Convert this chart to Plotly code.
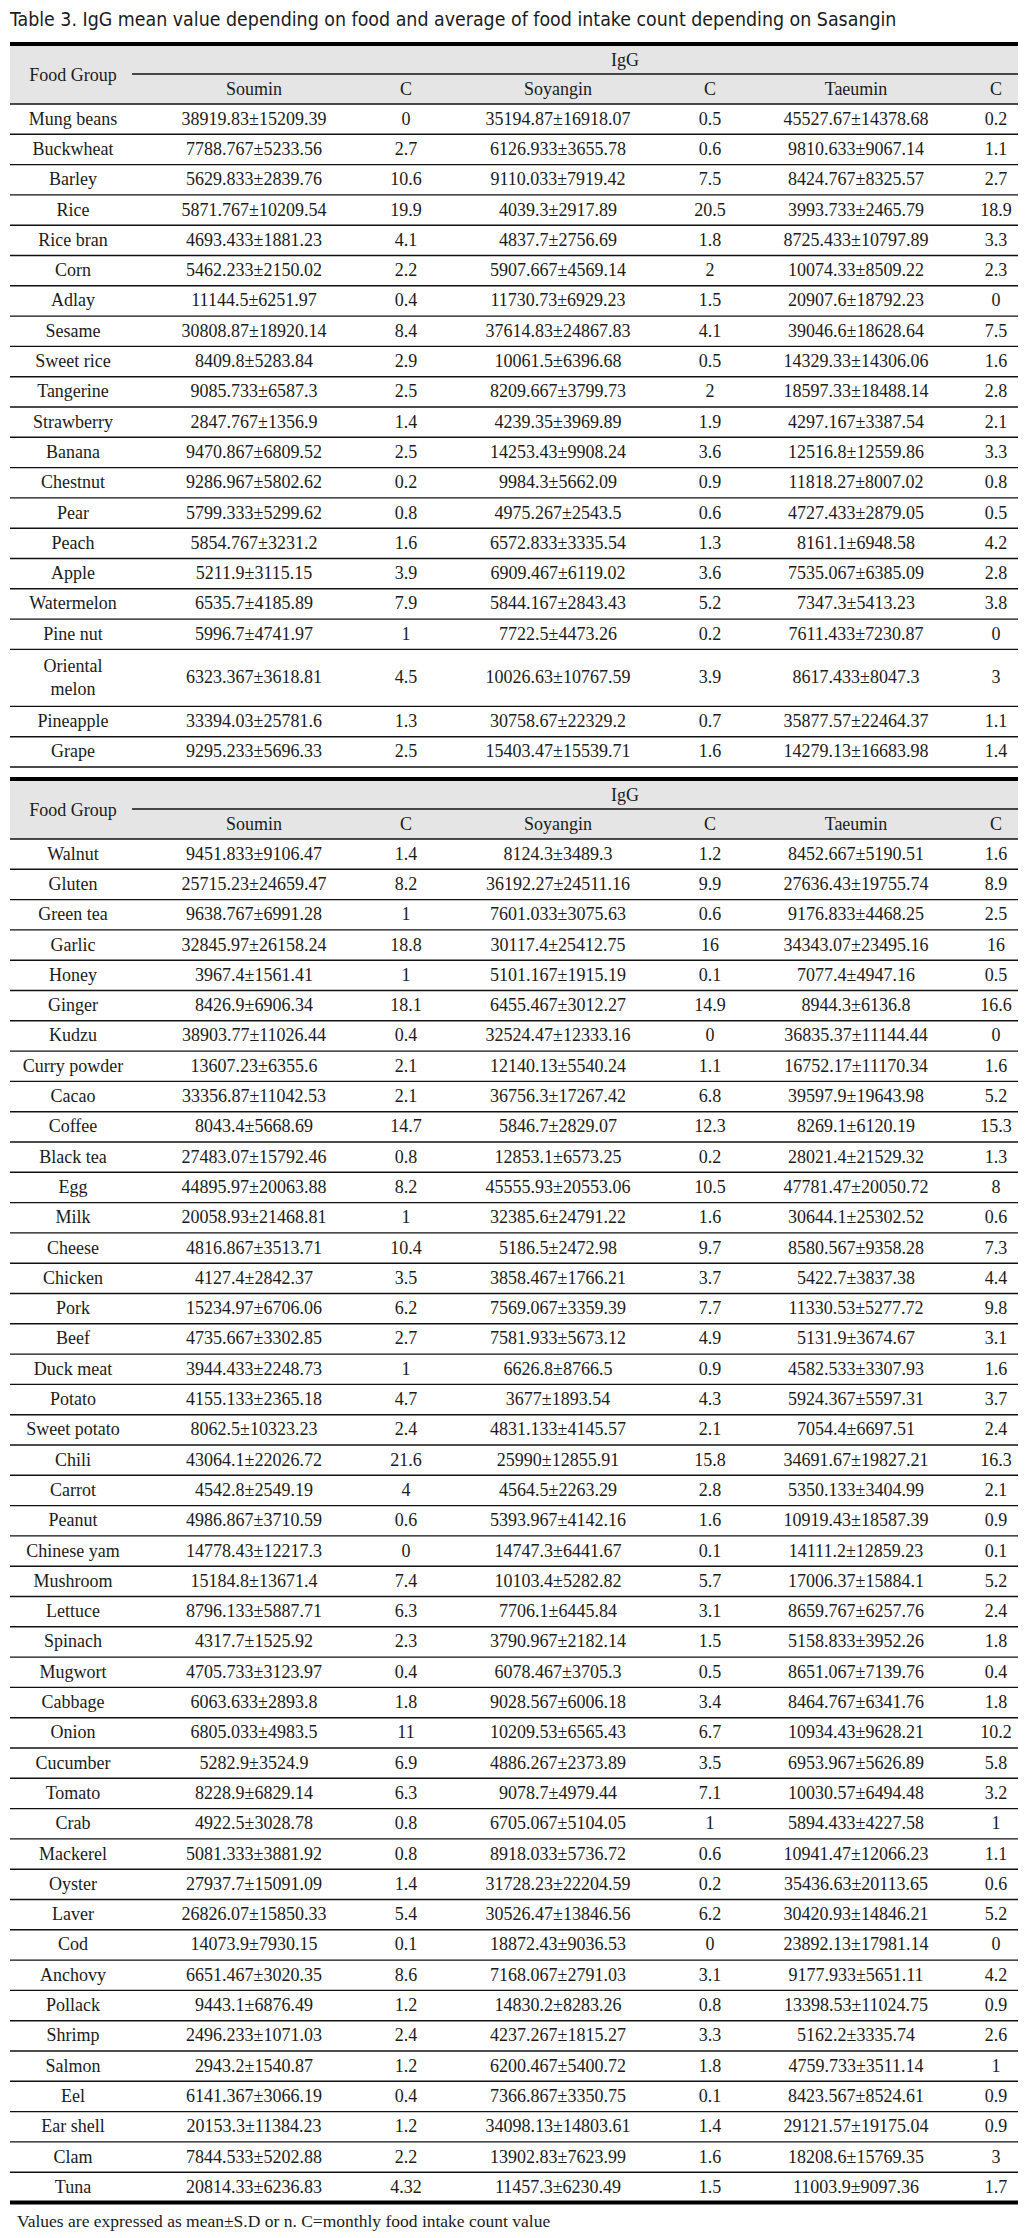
import plotly.graph_objects as go

# ---------------- text ----------------
title_text = "Table 3. IgG mean value depending on food and average of food intake count depending on Sasangin"
footnote_text = "Values are expressed as mean±S.D or n. C=monthly food intake count value"
group_label = "IgG"
food_header = "Food Group"
col_headers = ["Soumin", "C", "Soyangin", "C", "Taeumin", "C"]

# ---------------- data: part 1 ----------------
foods_1 = ["Mung beans", "Buckwheat", "Barley", "Rice", "Rice bran", "Corn", "Adlay", "Sesame",
           "Sweet rice", "Tangerine", "Strawberry", "Banana", "Chestnut", "Pear", "Peach", "Apple",
           "Watermelon", "Pine nut", "Oriental<br>melon", "Pineapple", "Grape"]
soumin_1 = ["38919.83±15209.39", "7788.767±5233.56", "5629.833±2839.76", "5871.767±10209.54",
            "4693.433±1881.23", "5462.233±2150.02", "11144.5±6251.97", "30808.87±18920.14",
            "8409.8±5283.84", "9085.733±6587.3", "2847.767±1356.9", "9470.867±6809.52",
            "9286.967±5802.62", "5799.333±5299.62", "5854.767±3231.2", "5211.9±3115.15",
            "6535.7±4185.89", "5996.7±4741.97", "6323.367±3618.81", "33394.03±25781.6",
            "9295.233±5696.33"]
c_soumin_1 = ["0", "2.7", "10.6", "19.9", "4.1", "2.2", "0.4", "8.4", "2.9", "2.5", "1.4", "2.5",
              "0.2", "0.8", "1.6", "3.9", "7.9", "1", "4.5", "1.3", "2.5"]
soyangin_1 = ["35194.87±16918.07", "6126.933±3655.78", "9110.033±7919.42", "4039.3±2917.89",
              "4837.7±2756.69", "5907.667±4569.14", "11730.73±6929.23", "37614.83±24867.83",
              "10061.5±6396.68", "8209.667±3799.73", "4239.35±3969.89", "14253.43±9908.24",
              "9984.3±5662.09", "4975.267±2543.5", "6572.833±3335.54", "6909.467±6119.02",
              "5844.167±2843.43", "7722.5±4473.26", "10026.63±10767.59", "30758.67±22329.2",
              "15403.47±15539.71"]
c_soyangin_1 = ["0.5", "0.6", "7.5", "20.5", "1.8", "2", "1.5", "4.1", "0.5", "2", "1.9", "3.6",
                "0.9", "0.6", "1.3", "3.6", "5.2", "0.2", "3.9", "0.7", "1.6"]
taeumin_1 = ["45527.67±14378.68", "9810.633±9067.14", "8424.767±8325.57", "3993.733±2465.79",
             "8725.433±10797.89", "10074.33±8509.22", "20907.6±18792.23", "39046.6±18628.64",
             "14329.33±14306.06", "18597.33±18488.14", "4297.167±3387.54", "12516.8±12559.86",
             "11818.27±8007.02", "4727.433±2879.05", "8161.1±6948.58", "7535.067±6385.09",
             "7347.3±5413.23", "7611.433±7230.87", "8617.433±8047.3", "35877.57±22464.37",
             "14279.13±16683.98"]
c_taeumin_1 = ["0.2", "1.1", "2.7", "18.9", "3.3", "2.3", "0", "7.5", "1.6", "2.8", "2.1", "3.3",
               "0.8", "0.5", "4.2", "2.8", "3.8", "0", "3", "1.1", "1.4"]

# ---------------- data: part 2 ----------------
foods_2 = ["Walnut", "Gluten", "Green tea", "Garlic", "Honey", "Ginger", "Kudzu", "Curry powder",
           "Cacao", "Coffee", "Black tea", "Egg", "Milk", "Cheese", "Chicken", "Pork", "Beef",
           "Duck meat", "Potato", "Sweet potato", "Chili", "Carrot", "Peanut", "Chinese yam",
           "Mushroom", "Lettuce", "Spinach", "Mugwort", "Cabbage", "Onion", "Cucumber", "Tomato",
           "Crab", "Mackerel", "Oyster", "Laver", "Cod", "Anchovy", "Pollack", "Shrimp", "Salmon",
           "Eel", "Ear shell", "Clam", "Tuna"]
soumin_2 = ["9451.833±9106.47", "25715.23±24659.47", "9638.767±6991.28", "32845.97±26158.24",
            "3967.4±1561.41", "8426.9±6906.34", "38903.77±11026.44", "13607.23±6355.6",
            "33356.87±11042.53", "8043.4±5668.69", "27483.07±15792.46", "44895.97±20063.88",
            "20058.93±21468.81", "4816.867±3513.71", "4127.4±2842.37", "15234.97±6706.06",
            "4735.667±3302.85", "3944.433±2248.73", "4155.133±2365.18", "8062.5±10323.23",
            "43064.1±22026.72", "4542.8±2549.19", "4986.867±3710.59", "14778.43±12217.3",
            "15184.8±13671.4", "8796.133±5887.71", "4317.7±1525.92", "4705.733±3123.97",
            "6063.633±2893.8", "6805.033±4983.5", "5282.9±3524.9", "8228.9±6829.14",
            "4922.5±3028.78", "5081.333±3881.92", "27937.7±15091.09", "26826.07±15850.33",
            "14073.9±7930.15", "6651.467±3020.35", "9443.1±6876.49", "2496.233±1071.03",
            "2943.2±1540.87", "6141.367±3066.19", "20153.3±11384.23", "7844.533±5202.88",
            "20814.33±6236.83"]
c_soumin_2 = ["1.4", "8.2", "1", "18.8", "1", "18.1", "0.4", "2.1", "2.1", "14.7", "0.8", "8.2",
              "1", "10.4", "3.5", "6.2", "2.7", "1", "4.7", "2.4", "21.6", "4", "0.6", "0", "7.4",
              "6.3", "2.3", "0.4", "1.8", "11", "6.9", "6.3", "0.8", "0.8", "1.4", "5.4", "0.1",
              "8.6", "1.2", "2.4", "1.2", "0.4", "1.2", "2.2", "4.32"]
soyangin_2 = ["8124.3±3489.3", "36192.27±24511.16", "7601.033±3075.63", "30117.4±25412.75",
              "5101.167±1915.19", "6455.467±3012.27", "32524.47±12333.16", "12140.13±5540.24",
              "36756.3±17267.42", "5846.7±2829.07", "12853.1±6573.25", "45555.93±20553.06",
              "32385.6±24791.22", "5186.5±2472.98", "3858.467±1766.21", "7569.067±3359.39",
              "7581.933±5673.12", "6626.8±8766.5", "3677±1893.54", "4831.133±4145.57",
              "25990±12855.91", "4564.5±2263.29", "5393.967±4142.16", "14747.3±6441.67",
              "10103.4±5282.82", "7706.1±6445.84", "3790.967±2182.14", "6078.467±3705.3",
              "9028.567±6006.18", "10209.53±6565.43", "4886.267±2373.89", "9078.7±4979.44",
              "6705.067±5104.05", "8918.033±5736.72", "31728.23±22204.59", "30526.47±13846.56",
              "18872.43±9036.53", "7168.067±2791.03", "14830.2±8283.26", "4237.267±1815.27",
              "6200.467±5400.72", "7366.867±3350.75", "34098.13±14803.61", "13902.83±7623.99",
              "11457.3±6230.49"]
c_soyangin_2 = ["1.2", "9.9", "0.6", "16", "0.1", "14.9", "0", "1.1", "6.8", "12.3", "0.2", "10.5",
                "1.6", "9.7", "3.7", "7.7", "4.9", "0.9", "4.3", "2.1", "15.8", "2.8", "1.6", "0.1",
                "5.7", "3.1", "1.5", "0.5", "3.4", "6.7", "3.5", "7.1", "1", "0.6", "0.2", "6.2",
                "0", "3.1", "0.8", "3.3", "1.8", "0.1", "1.4", "1.6", "1.5"]
taeumin_2 = ["8452.667±5190.51", "27636.43±19755.74", "9176.833±4468.25", "34343.07±23495.16",
             "7077.4±4947.16", "8944.3±6136.8", "36835.37±11144.44", "16752.17±11170.34",
             "39597.9±19643.98", "8269.1±6120.19", "28021.4±21529.32", "47781.47±20050.72",
             "30644.1±25302.52", "8580.567±9358.28", "5422.7±3837.38", "11330.53±5277.72",
             "5131.9±3674.67", "4582.533±3307.93", "5924.367±5597.31", "7054.4±6697.51",
             "34691.67±19827.21", "5350.133±3404.99", "10919.43±18587.39", "14111.2±12859.23",
             "17006.37±15884.1", "8659.767±6257.76", "5158.833±3952.26", "8651.067±7139.76",
             "8464.767±6341.76", "10934.43±9628.21", "6953.967±5626.89", "10030.57±6494.48",
             "5894.433±4227.58", "10941.47±12066.23", "35436.63±20113.65", "30420.93±14846.21",
             "23892.13±17981.14", "9177.933±5651.11", "13398.53±11024.75", "5162.2±3335.74",
             "4759.733±3511.14", "8423.567±8524.61", "29121.57±19175.04", "18208.6±15769.35",
             "11003.9±9097.36"]
c_taeumin_2 = ["1.6", "8.9", "2.5", "16", "0.5", "16.6", "0", "1.6", "5.2", "15.3", "1.3", "8",
               "0.6", "7.3", "4.4", "9.8", "3.1", "1.6", "3.7", "2.4", "16.3", "2.1", "0.9", "0.1",
               "5.2", "2.4", "1.8", "0.4", "1.8", "10.2", "5.8", "3.2", "1", "1.1", "0.6", "5.2",
               "0", "4.2", "0.9", "2.6", "1", "0.9", "0.9", "3", "1.7"]

# ---------------- layout constants ----------------
W, H = 1030, 2238
X_LEFT, X_RIGHT = 10, 1018
X_IGG_LINE = 132
COL_X = [73, 254, 406, 558, 710, 856, 996]
ROW_H = 30.3
ROW_H_2 = 57
HEADER_H = 60
T1_TOP = 44
TABLE_GAP = 12
TITLE_Y = 19
SERIF = "Liberation Serif, Times New Roman, serif"
SANS = "Liberation Sans Narrow, DejaVu Sans Condensed, Noto Sans CJK KR, sans-serif"
TXT = "#1b1b1b"
GRAY = "#e5e5e5"
CELL_SIZE = 18

fig = go.Figure()
shapes = []
annotations = []


def add_table(top, foods, cols):
    # header block
    hb = top + HEADER_H
    shapes.append(dict(type="rect", xref="x", yref="y", x0=X_LEFT, x1=X_RIGHT, y0=top, y1=hb,
                       fillcolor=GRAY, line=dict(width=0), layer="below"))
    shapes.append(dict(type="line", xref="x", yref="y", x0=X_LEFT, x1=X_RIGHT, y0=top, y1=top,
                       line=dict(color="#000", width=4)))
    shapes.append(dict(type="line", xref="x", yref="y", x0=X_IGG_LINE, x1=X_RIGHT, y0=top + 30, y1=top + 30,
                       line=dict(color="#111", width=1.3)))
    shapes.append(dict(type="line", xref="x", yref="y", x0=X_LEFT, x1=X_RIGHT, y0=hb, y1=hb,
                       line=dict(color="#111", width=1.4)))
    hx = [COL_X[0], (COL_X[1] + COL_X[6]) / 2] + COL_X[1:]
    hy = [top + 32, top + 17] + [top + 46] * 6
    ht = [food_header, group_label] + col_headers
    fig.add_trace(go.Scatter(x=hx, y=hy, text=ht, mode="text", textposition="middle center",
                             textfont=dict(family=SERIF, size=CELL_SIZE, color=TXT), hoverinfo="skip",
                             showlegend=False))
    # body
    xs, ys, ts = [], [], []
    y = hb
    for i, name in enumerate(foods):
        h = ROW_H_2 if "<br>" in name else ROW_H
        yc = y + h / 2 + 1
        row = [name] + [c[i] for c in cols]
        for j, t in enumerate(row):
            xs.append(COL_X[j])
            ys.append(yc)
            ts.append(t)
        y += h
        shapes.append(dict(type="line", xref="x", yref="y", x0=X_LEFT, x1=X_RIGHT, y0=y, y1=y,
                           line=dict(color="#111", width=1.4)))
    fig.add_trace(go.Scatter(x=xs, y=ys, text=ts, mode="text", textposition="middle center",
                             textfont=dict(family=SERIF, size=CELL_SIZE, color=TXT), hoverinfo="skip",
                             showlegend=False))
    return y


b1 = add_table(T1_TOP, foods_1, [soumin_1, c_soumin_1, soyangin_1, c_soyangin_1, taeumin_1, c_taeumin_1])
t2 = b1 + TABLE_GAP
b2 = add_table(t2, foods_2, [soumin_2, c_soumin_2, soyangin_2, c_soyangin_2, taeumin_2, c_taeumin_2])
shapes.append(dict(type="line", xref="x", yref="y", x0=X_LEFT, x1=X_RIGHT, y0=b2, y1=b2,
                   line=dict(color="#000", width=4)))

annotations.append(dict(x=7, y=TITLE_Y, xref="x", yref="y", text=title_text, showarrow=False,
                        xanchor="left", yanchor="middle", font=dict(family=SANS, size=19.4, color=TXT)))
annotations.append(dict(x=15, y=b2 + 18, xref="x", yref="y", text=footnote_text, showarrow=False,
                        xanchor="left", yanchor="middle", font=dict(family=SERIF, size=17.5, color=TXT)))

fig.update_layout(
    width=W, height=H, margin=dict(l=0, r=0, t=0, b=0),
    paper_bgcolor="white", plot_bgcolor="white",
    xaxis=dict(range=[0, W], visible=False, fixedrange=True),
    yaxis=dict(range=[H, 0], visible=False, fixedrange=True),
    shapes=shapes, annotations=annotations, showlegend=False,
)

fig.write_html("out.html", config={"displayModeBar": False, "staticPlot": True},
               post_script="document.body.style.margin='0';document.body.style.overflow='hidden';")
